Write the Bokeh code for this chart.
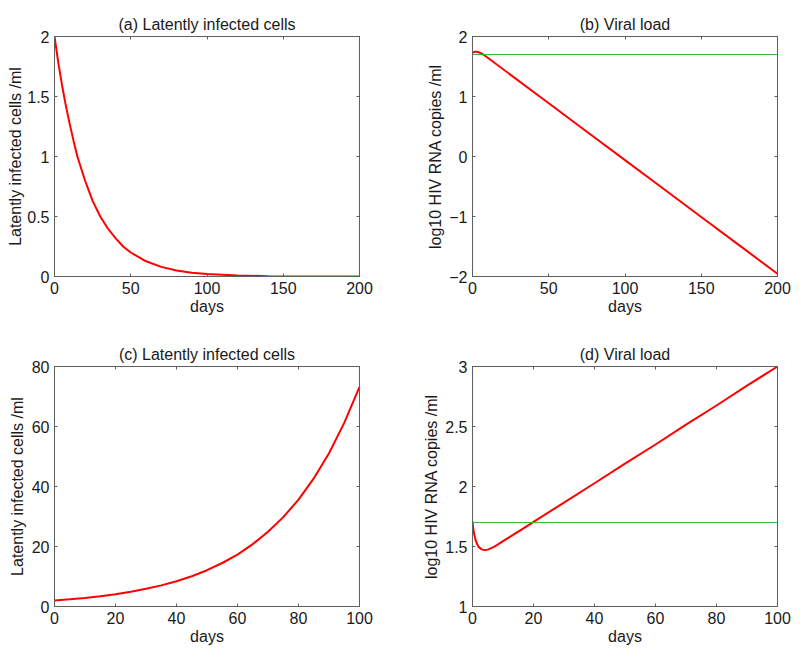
from bokeh.plotting import figure
from bokeh.layouts import gridplot
from bokeh.models import LinearAxis, FixedTicker, CustomJSTickFormatter, Range1d, Span
from bokeh.embed import file_html
from bokeh.resources import INLINE

# ---------------- data ----------------
DETECTION_LIMIT = 1.7  # log10 copies/ml (50 copies)

a_days = [0, 2.5, 5, 7.5, 10, 12.5, 15, 20, 25, 30, 35, 40, 45, 50, 60, 70, 80, 90, 100, 120, 140,
          160, 180, 200]
a_cells = [2.0, 1.78, 1.59, 1.42, 1.27, 1.13, 1.0, 0.80, 0.63, 0.50, 0.40, 0.32, 0.25, 0.20, 0.127,
           0.08, 0.05, 0.032, 0.02, 0.008, 0.003, 0.001, 0.0005, 0.0002]

b_days = [0, 1, 2, 3, 4, 5, 7, 10, 25, 50, 75, 100, 125, 150, 175, 200]
b_load = [1.725, 1.742, 1.747, 1.745, 1.738, 1.728, 1.70, 1.645, 1.361, 0.887, 0.413, -0.06,
          -0.534, -1.008, -1.481, -1.955]

c_days = [0, 5, 10, 15, 20, 25, 30, 35, 40, 45, 50, 55, 60, 65, 70, 75, 80, 85, 90, 95, 100]
c_cells = [2.0, 2.39, 2.87, 3.43, 4.11, 4.92, 5.89, 7.05, 8.44, 10.1, 12.1, 14.5, 17.3, 20.8,
           24.9, 29.8, 35.6, 42.7, 51.1, 61.2, 73.2]

d_days = [0, 0.25, 0.5, 1, 1.5, 2, 3, 4, 5, 6, 7, 8, 10, 12, 15, 18, 20, 30, 40, 50, 60, 70, 80,
          90, 100]
d_load = [1.71, 1.65, 1.61, 1.555, 1.52, 1.497, 1.476, 1.470, 1.474, 1.484, 1.497, 1.512, 1.544,
          1.576, 1.624, 1.672, 1.705, 1.866, 2.027, 2.19, 2.35, 2.515, 2.675, 2.84, 3.0]

a_xticks = [0, 50, 100, 150, 200]
a_yticks = [0, 0.5, 1, 1.5, 2]
b_xticks = [0, 50, 100, 150, 200]
b_yticks = [-2, -1, 0, 1, 2]
c_xticks = [0, 20, 40, 60, 80, 100]
c_yticks = [0, 20, 40, 60, 80]
d_xticks = [0, 20, 40, 60, 80, 100]
d_yticks = [1, 1.5, 2, 2.5, 3]

titles = ["(a) Latently infected cells", "(b) Viral load",
          "(c) Latently infected cells", "(d) Viral load"]
x_label = "days"
cells_label = "Latently infected cells /ml"
load_label = "log10 HIV RNA copies /ml"

# ---------------- styling ----------------
FONT = "Liberation Sans"
FS = "16px"
FRAME = "#5f5f5f"
TEXT = "#1a1a1a"
RED = "#ff0000"
GREEN = "#3cb83c"

fmt_code = "return String(tick).replace('-', '\u2212');"


def style_axis(ax, ticks, show_labels=True):
    ax.ticker = FixedTicker(ticks=ticks)
    ax.major_tick_in = 3
    ax.major_tick_out = 0
    ax.minor_tick_line_color = None
    ax.major_tick_line_color = FRAME
    ax.axis_line_color = FRAME
    ax.major_label_text_font = FONT
    ax.axis_label_text_font = FONT
    ax.axis_label_text_font_size = FS
    ax.axis_label_text_font_style = "normal"
    ax.axis_label_text_color = TEXT
    if show_labels:
        ax.formatter = CustomJSTickFormatter(code=fmt_code)
        ax.major_label_text_color = TEXT
        ax.major_label_text_font_size = FS
        ax.major_label_standoff = 5
    else:
        ax.formatter = CustomJSTickFormatter(code="return '';")
        ax.major_label_text_color = None
        ax.major_label_text_alpha = 0
        ax.major_label_text_font_size = "1px"
        ax.major_label_standoff = 0


def panel(title, xs, ys, xr, yr, xticks, yticks, ylabel, w, h, bl, br, bt, bb, ylab_standoff,
          threshold=None):
    p = figure(width=w, height=h, output_backend="svg", toolbar_location=None,
               x_range=Range1d(*xr), y_range=Range1d(*yr),
               min_border_left=bl, min_border_right=br, min_border_top=bt, min_border_bottom=bb)
    p.grid.visible = False
    p.outline_line_color = FRAME
    p.outline_line_alpha = 1
    p.outline_line_width = 1
    p.background_fill_color = "white"
    p.border_fill_color = "white"
    p.title.text = title
    p.title.align = "center"
    p.title.text_font = FONT
    p.title.text_font_size = FS
    p.title.text_font_style = "normal"
    p.title.text_color = TEXT
    p.title.standoff = 8

    style_axis(p.xaxis[0], xticks)
    style_axis(p.yaxis[0], yticks)
    p.xaxis[0].axis_label = x_label
    p.xaxis[0].axis_label_standoff = 1
    p.yaxis[0].axis_label = ylabel
    p.yaxis[0].axis_label_standoff = ylab_standoff

    top = LinearAxis()
    style_axis(top, xticks, show_labels=False)
    p.add_layout(top, "above")
    right = LinearAxis()
    style_axis(right, yticks, show_labels=False)
    p.add_layout(right, "right")

    if threshold is not None:
        p.add_layout(Span(location=threshold, dimension="width", line_color=GREEN, line_width=1.2))
    p.line(xs, ys, line_color=RED, line_width=2)
    return p


pa = panel(titles[0], a_days, a_cells, (0, 200), (0, 2), a_xticks, a_yticks, cells_label,
           400, 330, 54, 41, 36, 54, 0)
pb = panel(titles[1], b_days, b_load, (0, 200), (-2, 2), b_xticks, b_yticks, load_label,
           400, 330, 72, 23, 36, 54, 2, threshold=DETECTION_LIMIT)
pc = panel(titles[2], c_days, c_cells, (0, 100), (0, 80), c_xticks, c_yticks, cells_label,
           400, 327, 54, 41, 36, 51, 3)
pd = panel(titles[3], d_days, d_load, (0, 100), (1, 3), d_xticks, d_yticks, load_label,
           400, 327, 72, 23, 36, 51, 2, threshold=DETECTION_LIMIT)

grid = gridplot([[pa, pb], [pc, pd]], toolbar_location=None)

open("out.html", "w").write(file_html(grid, INLINE))
